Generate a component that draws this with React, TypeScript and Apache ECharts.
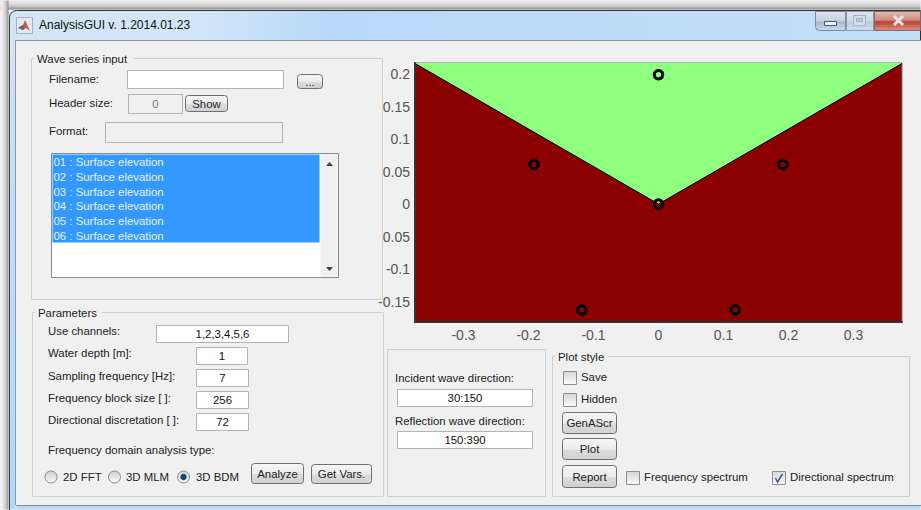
import React, { useEffect, useRef } from "react";
import * as echarts from "echarts";

const xTickValues = [-0.3, -0.2, -0.1, 0, 0.1, 0.2, 0.3];
const xTickLabels = ["-0.3", "-0.2", "-0.1", "0", "0.1", "0.2", "0.3"];
const yTickValues = [0.2, 0.15, 0.1, 0.05, 0, -0.05, -0.1, -0.15];
const yTickLabels = ["0.2", "0.15", "0.1", "0.05", "0", "0.05", "-0.1", "-0.15"];
const boundaryX = [-0.3746, 0, 0.3746];
const boundaryY = [0.2163, 0, 0.2163];
const probeX = [0, -0.1915, -0.118, 0.118, 0.1915, 0];
const probeY = [0.199, 0.0608, -0.163, -0.163, 0.0608, 0];

const windowTitle = "AnalysisGUI v. 1.2014.01.23";
const listRows = [
  "01 : Surface elevation",
  "02 : Surface elevation",
  "03 : Surface elevation",
  "04 : Surface elevation",
  "05 : Surface elevation",
  "06 : Surface elevation",
];

const FONT = "'Liberation Sans', Arial, sans-serif";
const GUI_BG = "#f0f0f0";
const GUI_SIZE = 11.4;

const vGrad = (stops: [number, string][]) => ({
  type: "linear", x: 0, y: 0, x2: 0, y2: 1,
  colorStops: stops.map(([offset, color]) => ({ offset, color })),
});
const hGrad = (stops: [number, string][]) => ({
  type: "linear", x: 0, y: 0, x2: 1, y2: 0,
  colorStops: stops.map(([offset, color]) => ({ offset, color })),
});

const box = (x: number, y: number, w: number, h: number, fill: any, stroke?: string, r: any = 0, lineWidth = 1): any => ({
  type: "rect",
  shape: { x: x + 0.5, y: y + 0.5, width: w - 1, height: h - 1, r },
  style: { fill, stroke: stroke ?? "none", lineWidth },
  silent: true,
});
const rawLine = (x1: number, y1: number, x2: number, y2: number, stroke: string, lineWidth = 1): any => ({
  type: "line", shape: { x1, y1, x2, y2 }, style: { stroke, lineWidth }, silent: true,
});
const label = (text: string, x: number, y: number, opts: any = {}): any => ({
  type: "text",
  silent: true,
  style: {
    text, x, y: y - 0.8,
    fill: opts.fill ?? "#222",
    fontFamily: FONT,
    fontSize: opts.size ?? GUI_SIZE,
    align: opts.align ?? "left",
    verticalAlign: "middle",
  },
});
const edit = (x1: number, y1: number, x2: number, y2: number, text: string, fill = "#fff", color = "#111"): any[] => [
  box(x1, y1, x2 - x1, y2 - y1, fill, "#b4b4b4"),
  ...(text ? [label(text, (x1 + x2) / 2, (y1 + y2) / 2 + 1, { align: "center", fill: color })] : []),
];
const button = (x1: number, y1: number, x2: number, y2: number, text: string): any[] => [
  box(x1, y1, x2 - x1, y2 - y1, vGrad([[0, "#f6f6f6"], [0.5, "#ececec"], [0.55, "#dcdcdc"], [1, "#d0d0d0"]]), "#6f6f6f", 3),
  label(text, (x1 + x2) / 2, (y1 + y2) / 2 + 1, { align: "center" }),
];
const panel = (x1: number, y1: number, x2: number, y2: number, title?: string, titleEnd = 0): any[] => {
  const out: any[] = [
    box(x1, y1, x2 - x1, y2 - y1, "none", "#cfcfcf"),
  ];
  if (title) {
    out.push(box(x1 + 3, y1 - 3, titleEnd - x1 - 3, 6, GUI_BG));
    out.push(label(title, x1 + 6, y1 + 2));
  }
  return out;
};
const checkbox = (x: number, y: number, text: string, textX: number, checked = false): any[] => {
  const out: any[] = [
    box(x, y, 14, 14, vGrad([[0, "#d6d6d6"], [1, "#fbfbfb"]]), "#8e8f8f"),
  ];
  if (checked) {
    out.push({
      type: "polyline",
      shape: { points: [[x + 3.5, y + 7], [x + 5.5, y + 11], [x + 10.5, y + 3]] },
      style: { stroke: "#3a5fa8", lineWidth: 1.6, fill: "none" },
      silent: true,
    });
  }
  out.push(label(text, textX, y + 7));
  return out;
};
const radio = (cx: number, cy: number, text: string, textX: number, on = false): any[] => {
  const out: any[] = [
    { type: "circle", shape: { cx, cy, r: 6 }, style: { fill: vGrad([[0, "#cfcfcf"], [1, "#fafafa"]]), stroke: "#8a8a8a" }, silent: true },
  ];
  if (on) {
    out.push({ type: "circle", shape: { cx, cy, r: 3.2 }, style: { fill: "#14476e" }, silent: true });
  }
  out.push(label(text, textX, cy + 1));
  return out;
};

const chrome = (): any[] => [
  // desktop shadow round the window
  box(0, 0, 921, 10, vGrad([[0, "#ececec"], [0.6, "#cfcfcf"], [1, "#8c8c8c"]])),
  box(0, 0, 9, 510, hGrad([[0, "#f6f6f6"], [0.6, "#d2d2d2"], [1, "#909090"]])),
  // frame
  box(9, 10, 912, 31, hGrad([[0, "#d4e4f3"], [0.2, "#d2e6f8"], [0.35, "#b9d9fb"], [0.7, "#bfdcfa"], [1, "#c5dff8"]]), "#2f3338", [7, 0, 0, 0]),
  box(9, 38, 7, 472, vGrad([[0, "#d4e4f3"], [0.4, "#c0dcf8"], [1, "#b7d8fb"]])),
  rawLine(9.5, 18, 9.5, 510, "#3a3f45"),
  box(16, 505, 905, 5, "#b9dafb"),
  rawLine(16, 505.5, 921, 505.5, "#7f8d9b"),
  rawLine(15.5, 40.5, 15.5, 505, "#8b98a6"),
  rawLine(16, 40.5, 921, 40.5, "#8b98a6"),
  // window title
  box(16, 17, 17, 17, "#dfe9f2", "#9fb2c4"),
  { type: "polygon", shape: { points: [[18, 28], [23, 25], [25, 20], [30, 31], [26, 28], [23, 30]] }, style: { fill: "#d8562a" }, silent: true },
  { type: "polygon", shape: { points: [[18, 28], [23, 25], [24, 28], [23, 30]] }, style: { fill: "#3a6fb0" }, silent: true },
  label(windowTitle, 39, 25.5, { size: 12, fill: "#111" }),
  // window buttons
  box(815, 11, 31, 20, vGrad([[0, "#dbe5ef"], [0.5, "#c2d1e0"], [0.55, "#a5b7c9"], [1, "#cbdbe9"]]), "#7e8b98", [0, 0, 0, 4]),
  box(846, 11, 28, 20, vGrad([[0, "#dbe5ef"], [0.5, "#ccdae7"], [0.55, "#bccbdb"], [1, "#cfdfec"]]), "#8e9ba8"),
  box(874, 11, 47, 20, vGrad([[0, "#e2bdb2"], [0.45, "#d08a7c"], [0.55, "#bd3f2e"], [1, "#dd9285"]]), "#7e6a68"),
  box(824, 21, 13, 5, "#f3f6f9", "#4b5a68"),
  box(853, 15, 13, 11, "#d3dfea", "#a3b3c2"),
  box(856, 18, 7, 4, "#b8c8d8", "#9fb0c0"),
  rawLine(894, 16, 903, 25, "#e6e6e6", 3),
  rawLine(903, 16, 894, 25, "#e6e6e6", 3),

  // Wave series input
  ...panel(31, 58, 383, 300, "Wave series input", 134),
  label("Filename:", 49, 80),
  ...edit(127, 70, 284, 89, ""),
  ...button(297, 74, 323, 89, "..."),
  label("Header size:", 49, 104),
  ...edit(128, 94, 183, 114, "0", GUI_BG, "#777"),
  ...button(185, 95, 228, 112, "Show"),
  label("Format:", 49, 132),
  ...edit(105, 122, 283, 143, "", GUI_BG),
  box(51, 153, 288, 125, "#fff", "#7f8c99"),
  box(52, 154, 268, 89, "#3399ff"),
  box(320, 154, 18, 123, "#f0f0f0"),
  { type: "polygon", shape: { points: [[326, 166], [333, 166], [329.5, 162]] }, style: { fill: "#444" }, silent: true },
  { type: "polygon", shape: { points: [[326, 267], [333, 267], [329.5, 271]] }, style: { fill: "#444" }, silent: true },
  ...listRows.map((t, i) => label(t, 53.5, 163 + i * 14.75, { fill: "#e6f1ff" })),

  // Parameters
  ...panel(32, 312, 384, 497, "Parameters", 102),
  label("Use channels:", 48, 332),
  ...edit(156, 325, 289, 343, "1,2,3,4,5,6"),
  label("Water depth [m]:", 48, 354),
  ...edit(196, 347, 248, 365, "1"),
  label("Sampling frequency [Hz]:", 48, 377),
  ...edit(196, 369, 249, 387, "7"),
  label("Frequency block size [ ]:", 48, 399),
  ...edit(196, 391, 249, 409, "256"),
  label("Directional discretation [ ]:", 48, 421),
  ...edit(196, 413, 249, 431, "72"),
  label("Frequency domain analysis type:", 48, 451),
  ...radio(51, 477, "2D FFT", 63),
  ...radio(114.5, 477, "3D MLM", 126),
  ...radio(183.5, 477, "3D BDM", 196, true),
  ...button(251, 463, 304, 484, "Analyze"),
  ...button(311, 464, 372, 484, "Get Vars."),

  // Direction panel
  ...panel(387, 349, 546, 497),
  label("Incident wave direction:", 395, 379),
  ...edit(397, 389, 533, 407, "30:150"),
  label("Reflection wave direction:", 395, 422),
  ...edit(397, 431, 533, 449, "150:390"),

  // Plot style
  ...panel(552, 356, 910, 497, "Plot style", 608),
  ...checkbox(563, 371, "Save", 581),
  ...checkbox(563, 393, "Hidden", 581),
  ...button(562, 412, 617, 434, "GenAScr"),
  ...button(562, 438, 617, 460, "Plot"),
  ...button(562, 465, 617, 488, "Report"),
  ...checkbox(626, 471, "Frequency spectrum", 644),
  ...checkbox(772, 471, "Directional spectrum", 790, true),
];

const lookup = (values: number[], labels: string[]) => (v: number) => {
  const i = values.findIndex((t) => Math.abs(t - v) < 1e-6);
  return i >= 0 ? labels[i] : "";
};

export default function App() {
  const ref = useRef<HTMLDivElement>(null);
  useEffect(() => {
    document.body.style.margin = "0";
    const chart = echarts.init(ref.current!, undefined, { renderer: "svg" });
    chart.setOption({
      animation: false,
      backgroundColor: GUI_BG,
      textStyle: { fontFamily: FONT },
      grid: {
        left: 415, top: 63, width: 487, height: 259,
        show: true, backgroundColor: "#8b0000", borderColor: "#777", borderWidth: 1,
      },
      xAxis: {
        type: "value", min: -0.3746, max: 0.3746, splitLine: { show: false },
        axisLine: { show: true, onZero: false, lineStyle: { color: "#333", width: 2 } },
        axisTick: { show: false },
        axisLabel: {
          customValues: xTickValues, formatter: lookup(xTickValues, xTickLabels),
          color: "#555", fontSize: 14, margin: 6, fontFamily: FONT,
        },
      },
      yAxis: {
        type: "value", min: -0.1815, max: 0.217, splitLine: { show: false },
        axisLine: { show: true, onZero: false, lineStyle: { color: "#333", width: 2 } },
        axisTick: { show: false },
        axisLabel: {
          customValues: yTickValues, formatter: lookup(yTickValues, yTickLabels),
          color: "#555", fontSize: 14, margin: 5, fontFamily: FONT,
        },
      },
      series: [
        {
          type: "line",
          z: 3,
          data: boundaryX.map((x, i) => [x, boundaryY[i]]),
          symbol: "none",
          lineStyle: { color: "#000", width: 1 },
          areaStyle: { color: "#8fff80", opacity: 1, origin: "end" },
        },
        {
          type: "scatter",
          z: 6,
          data: probeX.map((x, i) => [x, probeY[i]]),
          symbol: "circle",
          symbolSize: 8.5,
          itemStyle: { color: "transparent", borderColor: "#000", borderWidth: 3, opacity: 1 },
        },
      ],
      graphic: { elements: chrome() },
    });
    return () => chart.dispose();
  }, []);
  return <div ref={ref} style={{ position: "fixed", left: 0, top: 0, width: 921, height: 510 }} />;
}
